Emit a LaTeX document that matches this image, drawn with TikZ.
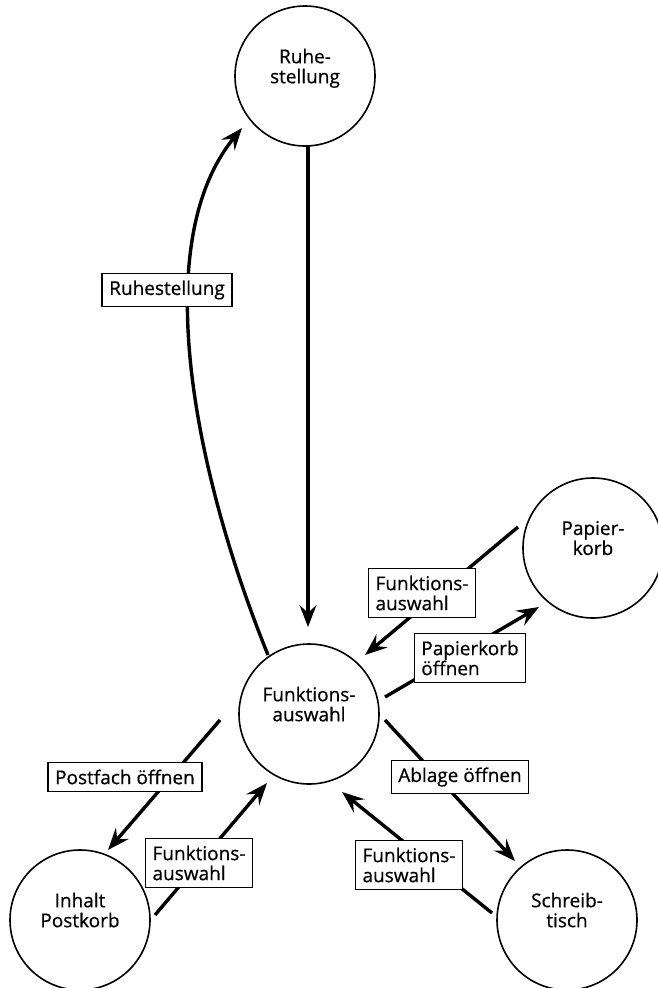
\documentclass[tikz,border=0pt]{standalone}
\usepackage{fontspec}
\setmainfont{Open Sans}
\newfontfamily\labfont{Open Sans}[FakeBold=0.6]
\usetikzlibrary{arrows.meta,backgrounds}
\tikzset{
  state/.style={circle,draw,line width=1.6pt,minimum size=140pt,inner sep=0pt,align=center,text depth=20pt,font=\labfont\fontsize{19}{20}\selectfont},
  lab/.style={draw,fill=white,line width=1.5pt,align=left,inner xsep=7pt,inner ysep=7pt,font=\labfont\fontsize{19}{20}\selectfont},
  conn/.style={line width=3.4pt,-{Stealth[length=22pt,width=17pt,inset=8pt]}},
}
\begin{document}
\begin{tikzpicture}[x=1pt,y=-1pt]
\useasboundingbox (0,0) rectangle (658,988);
% states
\node[state] (rs) at (305,76) {Ruhe-\\stellung};
\node[state] (fa) at (309,714) {Funktions-\\auswahl};
\node[state] (pk) at (593,548) {Papier-\\korb};
\node[state] (ip) at (80,920) {Inhalt\\Postkorb};
\node[state] (st) at (567,920) {Schreib-\\tisch};
% labels
\node[lab] (lRS) at (167,290) {Ruhestellung};
\node[lab] (lPF) at (422,593) {Funktions-\\auswahl};
\node[lab] (lPO) at (470,658) {Papierkorb\\öffnen};
\node[lab] (lPost) at (125,777) {Postfach öffnen};
\node[lab] (lIF) at (199,863) {Funktions-\\auswahl};
\node[lab] (lAb) at (460,777) {Ablage öffnen};
\node[lab] (lSF) at (409,865) {Funktions-\\auswahl};
% connector ends
\coordinate (v1) at (308,146);
\coordinate (v2) at (308,627);
\coordinate (c1) at (268,655);
\coordinate (c2) at (242,128);
\coordinate (a1s) at (518,527);
\coordinate (a1e) at (365,655);
\coordinate (a2s) at (385,697);
\coordinate (a2e) at (539,607);
\coordinate (a3s) at (220,720);
\coordinate (a3e) at (108,850);
\coordinate (a4s) at (155,915);
\coordinate (a4e) at (267,783);
\coordinate (a5s) at (385,720);
\coordinate (a5e) at (515,861);
\coordinate (a6s) at (492,913);
\coordinate (a6e) at (342,792);
\begin{pgfonlayer}{background}
\draw[conn] (v1) -- (v2);
\draw[conn] (c1) .. controls (197,480) and (146,245) .. (c2);
\draw[conn] (a1s) -- (a1e);
\draw[conn] (a2s) -- (a2e);
\draw[conn] (a3s) -- (a3e);
\draw[conn] (a4s) -- (a4e);
\draw[conn] (a5s) -- (a5e);
\draw[conn] (a6s) -- (a6e);
\end{pgfonlayer}
\end{tikzpicture}
\end{document}
